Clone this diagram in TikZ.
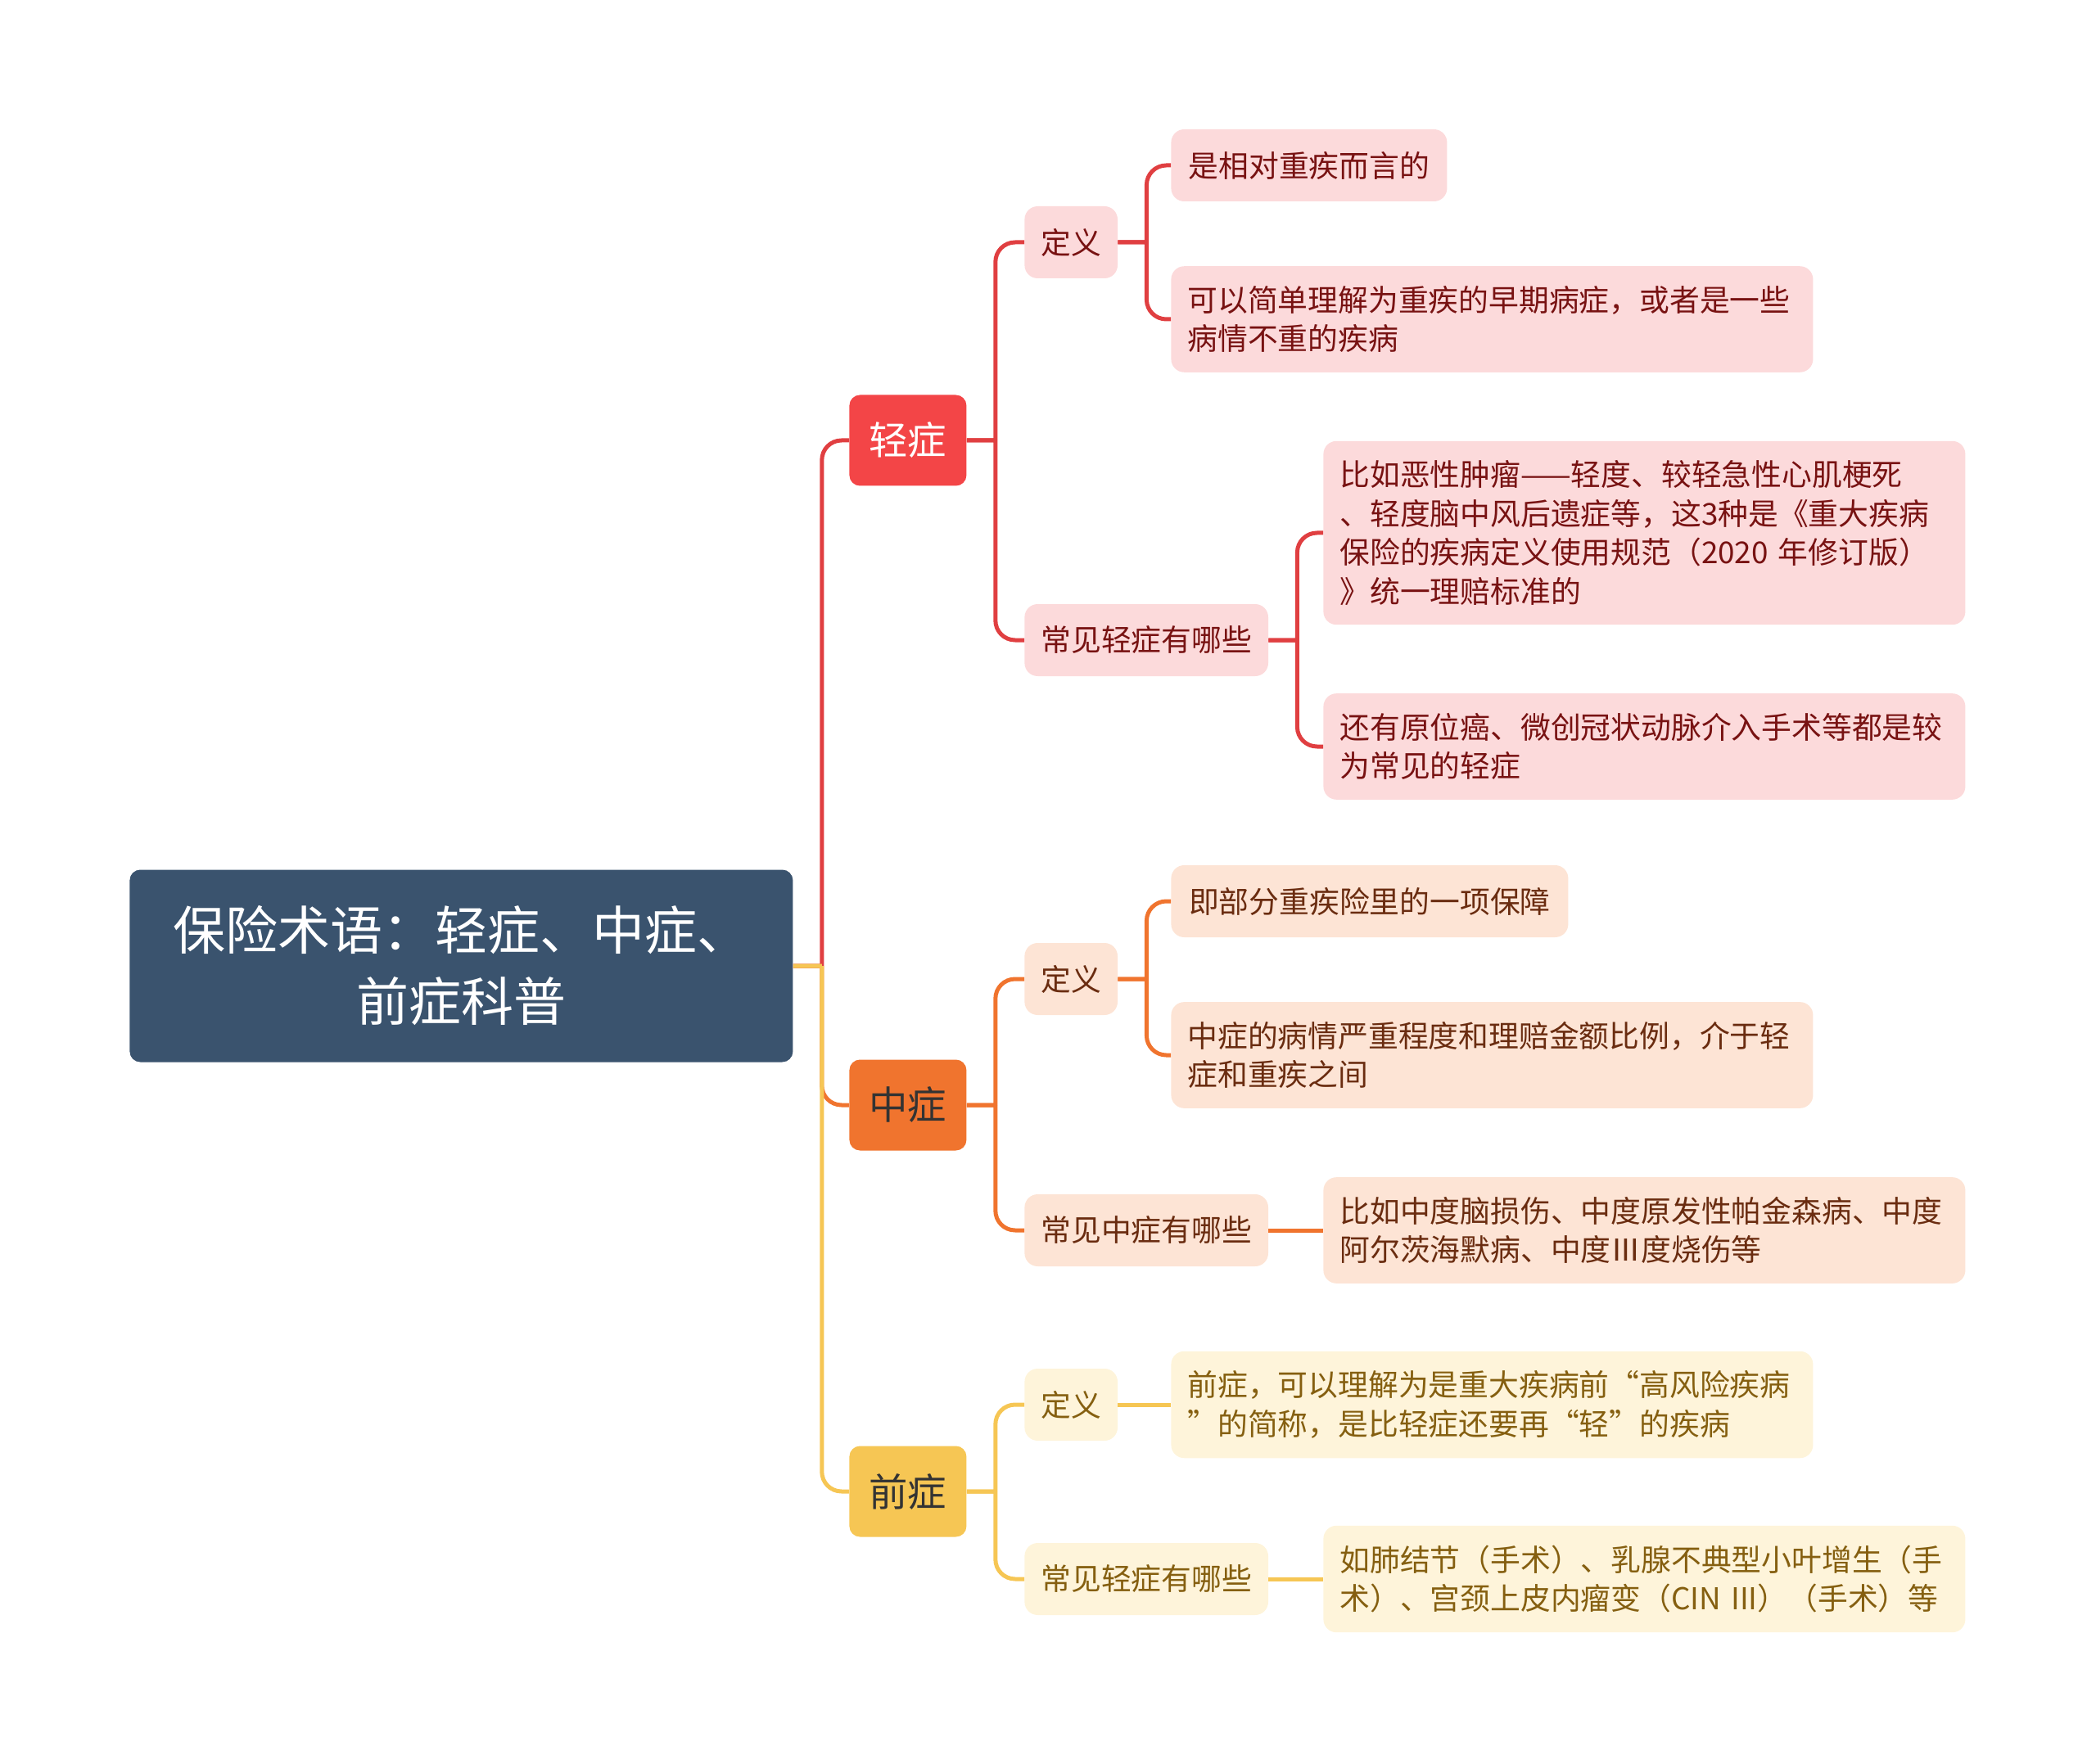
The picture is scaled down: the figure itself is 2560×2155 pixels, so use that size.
\documentclass[tikz,border=0pt]{standalone}
\usepackage{fontspec}
\setmainfont{Noto Sans CJK SC}
\definecolor{rootblue}{HTML}{3A536E}
\definecolor{qred}{HTML}{F34547}
\definecolor{zorange}{HTML}{F0742E}
\definecolor{qyellow}{HTML}{F6C654}
\definecolor{redlight}{HTML}{FCDADB}
\definecolor{orangelight}{HTML}{FDE4D5}
\definecolor{yellowlight}{HTML}{FEF4DA}
\definecolor{redtext}{HTML}{781212}
\definecolor{orangetext}{HTML}{6A2C10}
\definecolor{yellowtext}{HTML}{855F10}
\tikzset{
  root/.style={fill=rootblue,text=white,rounded corners=6.5pt,anchor=west,
    minimum width=405pt,minimum height=117.5pt,align=center,
    font=\fontsize{32}{43.5}\selectfont},
  topic/.style={rounded corners=6.5pt,anchor=west,inner sep=0pt,
    minimum width=71.5pt,minimum height=55.5pt,font=\fontsize{23.7}{28}\selectfont},
  leaf/.style={rounded corners=8pt,anchor=west,align=left,inner xsep=10pt,
    inner ysep=12pt,minimum height=44pt,font=\fontsize{18.4}{23.7}\selectfont},
  wide/.style={leaf,text width=372pt},
  redleaf/.style={leaf,fill=redlight,text=redtext},
  orangeleaf/.style={leaf,fill=orangelight,text=orangetext},
  yellowleaf/.style={leaf,fill=yellowlight,text=yellowtext},
  elbow/.style={to path={-- ++(17.5pt,0) ++(0,0) |- (\tikztotarget)}},
  link/.style={line width=2.5pt,rounded corners=12pt},
}
\begin{document}
\begin{tikzpicture}[x=0.5pt,y=-0.5pt]
  \useasboundingbox (0,0) rectangle (2560,2155);
  % root and main branches
  \node[root] (root) at (158,1180) {保险术语：轻症、中症、\\前症科普};
  \node[topic,fill=qred,text=white]      (qz) at (1037,538)  {轻症};
  \node[topic,fill=zorange,text=black!80] (zz) at (1037,1350) {中症};
  \node[topic,fill=qyellow,text=black!80] (fz) at (1037,1822) {前症};
  % 轻症
  \node[redleaf,minimum width=55.5pt]  (qdy) at (1251,296) {定义};
  \node[redleaf,minimum width=148.5pt] (qcj) at (1251,782) {常见轻症有哪些};
  \node[redleaf,minimum width=168.5pt] (qa)  at (1430,202) {是相对重疾而言的};
  \node[redleaf,wide] (qb) at (1430,390) {可以简单理解为重疾的早期病症，或者是一些\\病情不重的疾病};
  \node[redleaf,wide] (qc) at (1616,651) {比如恶性肿瘤——轻度、较轻急性心肌梗死\\、轻度脑中风后遗症等，这3种是《重大疾病\\保险的疾病定义使用规范（2020 年修订版）\\》统一理赔标准的};
  \node[redleaf,wide] (qd) at (1616,912) {还有原位癌、微创冠状动脉介入手术等都是较\\为常见的轻症};
  % 中症
  \node[orangeleaf,minimum width=55.5pt]  (zdy) at (1251,1196) {定义};
  \node[orangeleaf,minimum width=148.5pt] (zcj) at (1251,1503) {常见中症有哪些};
  \node[orangeleaf,minimum width=242.5pt] (za)  at (1430,1101) {即部分重疾险里的一项保障};
  \node[orangeleaf,wide] (zb) at (1430,1289) {中症的病情严重程度和理赔金额比例，介于轻\\症和重疾之间};
  \node[orangeleaf,wide] (zc) at (1616,1503) {比如中度脑损伤、中度原发性帕金森病、中度\\阿尔茨海默病、中度Ⅲ度烧伤等};
  % 前症
  \node[yellowleaf,minimum width=55.5pt]  (fdy) at (1251,1716) {定义};
  \node[yellowleaf,minimum width=148.5pt] (fcj) at (1251,1929) {常见轻症有哪些};
  \node[yellowleaf,wide] (fa) at (1430,1716) {前症，可以理解为是重大疾病前“高风险疾病\\”的简称，是比轻症还要再“轻”的疾病};
  \node[yellowleaf,wide] (fb) at (1616,1929) {如肺结节（手术）、乳腺不典型小叶增生（手\\术）、宫颈上皮内瘤变（CIN III）（手术）等};
  % connectors
  \path[link,draw=qred!92!black]
    (root.east) edge[elbow] (qz.west)
    (qz.east)   edge[elbow] (qdy.west)
    (qz.east)   edge[elbow] (qcj.west)
    (qdy.east)  edge[elbow] (qa.west)
    (qdy.east)  edge[elbow] (qb.west)
    (qcj.east)  edge[elbow] (qc.west)
    (qcj.east)  edge[elbow] (qd.west);
  \path[link,draw=zorange]
    (root.east) edge[elbow] (zz.west)
    (zz.east)   edge[elbow] (zdy.west)
    (zz.east)   edge[elbow] (zcj.west)
    (zdy.east)  edge[elbow] (za.west)
    (zdy.east)  edge[elbow] (zb.west)
    (zcj.east)  edge (zc.west);
  \path[link,draw=qyellow]
    (root.east) edge[elbow] (fz.west)
    (fz.east)   edge[elbow] (fdy.west)
    (fz.east)   edge[elbow] (fcj.west)
    (fdy.east)  edge (fa.west)
    (fcj.east)  edge (fb.west);
\end{tikzpicture}
\end{document}
